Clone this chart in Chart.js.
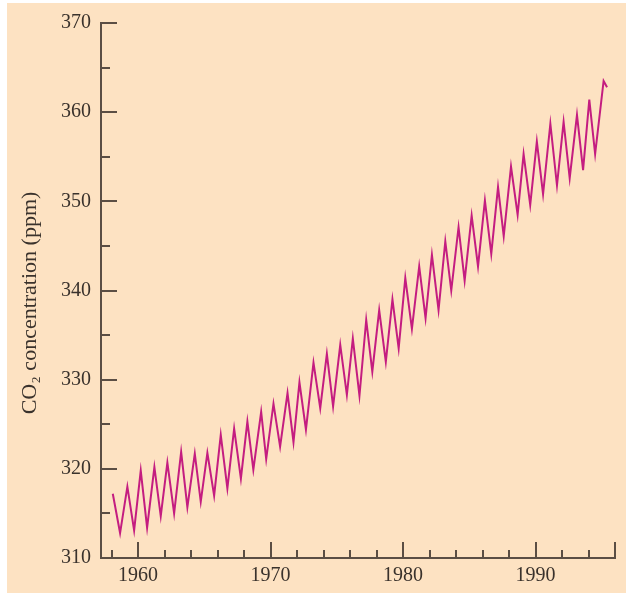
<!DOCTYPE html>
<html>
<head>
<meta charset="utf-8">
<script src="https://cdn.jsdelivr.net/npm/chart.js@4.4.1/dist/chart.umd.min.js"></script>
<style>
  html, body { margin: 0; padding: 0; background: #fff; }
</style>
</head>
<body>
<canvas id="co2Chart" width="628" height="595"></canvas>
<script>
// Mauna Loa CO2 (peaks and troughs of each year)
const years = [
  1958.09, 1958.64, 1959.19, 1959.70, 1960.20, 1960.68, 1961.23, 1961.71,
  1962.21, 1962.72, 1963.25, 1963.72, 1964.28, 1964.73, 1965.23, 1965.74,
  1966.24, 1966.74, 1967.25, 1967.76, 1968.25, 1968.70, 1969.29, 1969.67,
  1970.22, 1970.72, 1971.28, 1971.73, 1972.18, 1972.67, 1973.24, 1973.75,
  1974.25, 1974.72, 1975.26, 1975.76, 1976.21, 1976.71, 1977.22, 1977.68,
  1978.20, 1978.70, 1979.20, 1979.67, 1980.17, 1980.67, 1981.22, 1981.70,
  1982.18, 1982.68, 1983.19, 1983.64, 1984.19, 1984.65, 1985.18, 1985.66,
  1986.18, 1986.66, 1987.17, 1987.60, 1988.15, 1988.65, 1989.10, 1989.60,
  1990.10, 1990.57, 1991.12, 1991.62, 1992.12, 1992.58, 1993.13, 1993.59,
  1994.06, 1994.50, 1995.14, 1995.40
];
const co2 = [
  317.2, 312.8, 318.0, 313.1, 319.8, 313.4, 320.2, 314.7,
  320.7, 315.0, 321.9, 315.7, 321.7, 316.3, 321.8, 317.0,
  323.8, 317.8, 324.5, 318.9, 325.3, 319.9, 326.4, 321.1,
  327.3, 322.5, 328.5, 323.0, 329.7, 324.4, 331.9, 326.8,
  332.9, 327.0, 333.9, 328.3, 334.6, 328.2, 336.7, 330.9,
  337.8, 332.0, 339.0, 333.5, 341.4, 335.7, 342.7, 336.9,
  344.0, 337.8, 345.5, 340.0, 347.1, 341.1, 348.4, 342.7,
  350.1, 344.1, 351.6, 346.1, 353.9, 348.5, 355.3, 349.6,
  356.7, 350.8, 358.7, 351.8, 358.9, 352.6, 359.7, 353.5,
  361.4, 355.3, 363.5, 362.8
];

const xTickLabels = [1960, 1970, 1980, 1990];
const xMajorMarks = [1960, 1970, 1980, 1990, 1996];
const xMinorMarks = [1958, 1962, 1964, 1966, 1968, 1972, 1974, 1976, 1978, 1982, 1984, 1986, 1988, 1992, 1994];
const yTickLabels = [310, 320, 330, 340, 350, 360, 370];
const yMinorMarks = [315, 325, 335, 345, 355, 365];
const yTitle = 'CO₂ concentration (ppm)';

const axisColor = '#5b4e44';
const textColor = '#3a322c';
const serif = '"Liberation Serif", "Times New Roman", serif';

// peach panel behind everything
const panel = {
  id: 'panel',
  beforeDraw(chart) {
    const ctx = chart.ctx;
    ctx.save();
    ctx.fillStyle = '#ffffff';
    ctx.fillRect(0, 0, chart.width, chart.height);
    ctx.fillStyle = '#fde2c2';
    ctx.fillRect(7, 3, chart.width - 9, chart.height - 5);
    ctx.restore();
  }
};

// tick marks pointing into the plot, plus the rotated axis title
const innerTicks = {
  id: 'innerTicks',
  afterDraw(chart) {
    const { ctx, chartArea, scales: { x, y } } = chart;
    ctx.save();
    ctx.strokeStyle = axisColor;
    ctx.lineWidth = 2;
    ctx.beginPath();
    const xMark = (v, len) => {
      const px = Math.round(x.getPixelForValue(v));
      ctx.moveTo(px, chartArea.bottom);
      ctx.lineTo(px, chartArea.bottom - len);
    };
    const yMark = (v, len) => {
      const py = Math.round(y.getPixelForValue(v));
      ctx.moveTo(chartArea.left, py);
      ctx.lineTo(chartArea.left + len, py);
    };
    xMajorMarks.forEach(v => xMark(v, 16));
    xMinorMarks.forEach(v => xMark(v, 8));
    yTickLabels.forEach(v => yMark(v, 16));
    yMinorMarks.forEach(v => yMark(v, 9));
    ctx.stroke();

    ctx.translate(30, 303);
    ctx.rotate(-Math.PI / 2);
    ctx.fillStyle = textColor;
    ctx.font = '22px ' + serif;
    ctx.textAlign = 'center';
    ctx.textBaseline = 'middle';
    ctx.fillText(yTitle, 0, 0);
    ctx.restore();
  }
};

const ctx = document.getElementById('co2Chart').getContext('2d');
new Chart(ctx, {
  type: 'line',
  data: {
    datasets: [{
      data: years.map((yr, i) => ({ x: yr, y: co2[i] })),
      borderColor: '#c41d80',
      borderWidth: 2,
      pointRadius: 0,
      tension: 0,
      fill: false
    }]
  },
  options: {
    responsive: false,
    animation: false,
    devicePixelRatio: 1,
    layout: { padding: { left: 0, top: 23, right: 13, bottom: 0 } },
    plugins: {
      legend: { display: false },
      tooltip: { enabled: false }
    },
    scales: {
      x: {
        type: 'linear',
        min: 1957.2,
        max: 1996,
        grid: { display: false, drawTicks: false },
        border: { display: true, color: axisColor, width: 2 },
        ticks: {
          color: textColor,
          font: { family: serif, size: 20 },
          padding: 6,
          callback: v => String(v)
        },
        afterBuildTicks: s => { s.ticks = xTickLabels.map(v => ({ value: v })); },
        afterFit: s => { s.height = 37; }
      },
      y: {
        type: 'linear',
        min: 310,
        max: 370,
        grid: { display: false, drawTicks: false },
        border: { display: true, color: axisColor, width: 2 },
        ticks: {
          color: textColor,
          font: { family: serif, size: 20 },
          padding: 10
        },
        afterBuildTicks: s => { s.ticks = yTickLabels.map(v => ({ value: v })); },
        afterFit: s => { s.width = 101; }
      }
    }
  },
  plugins: [panel, innerTicks]
});
</script>
</body>
</html>
